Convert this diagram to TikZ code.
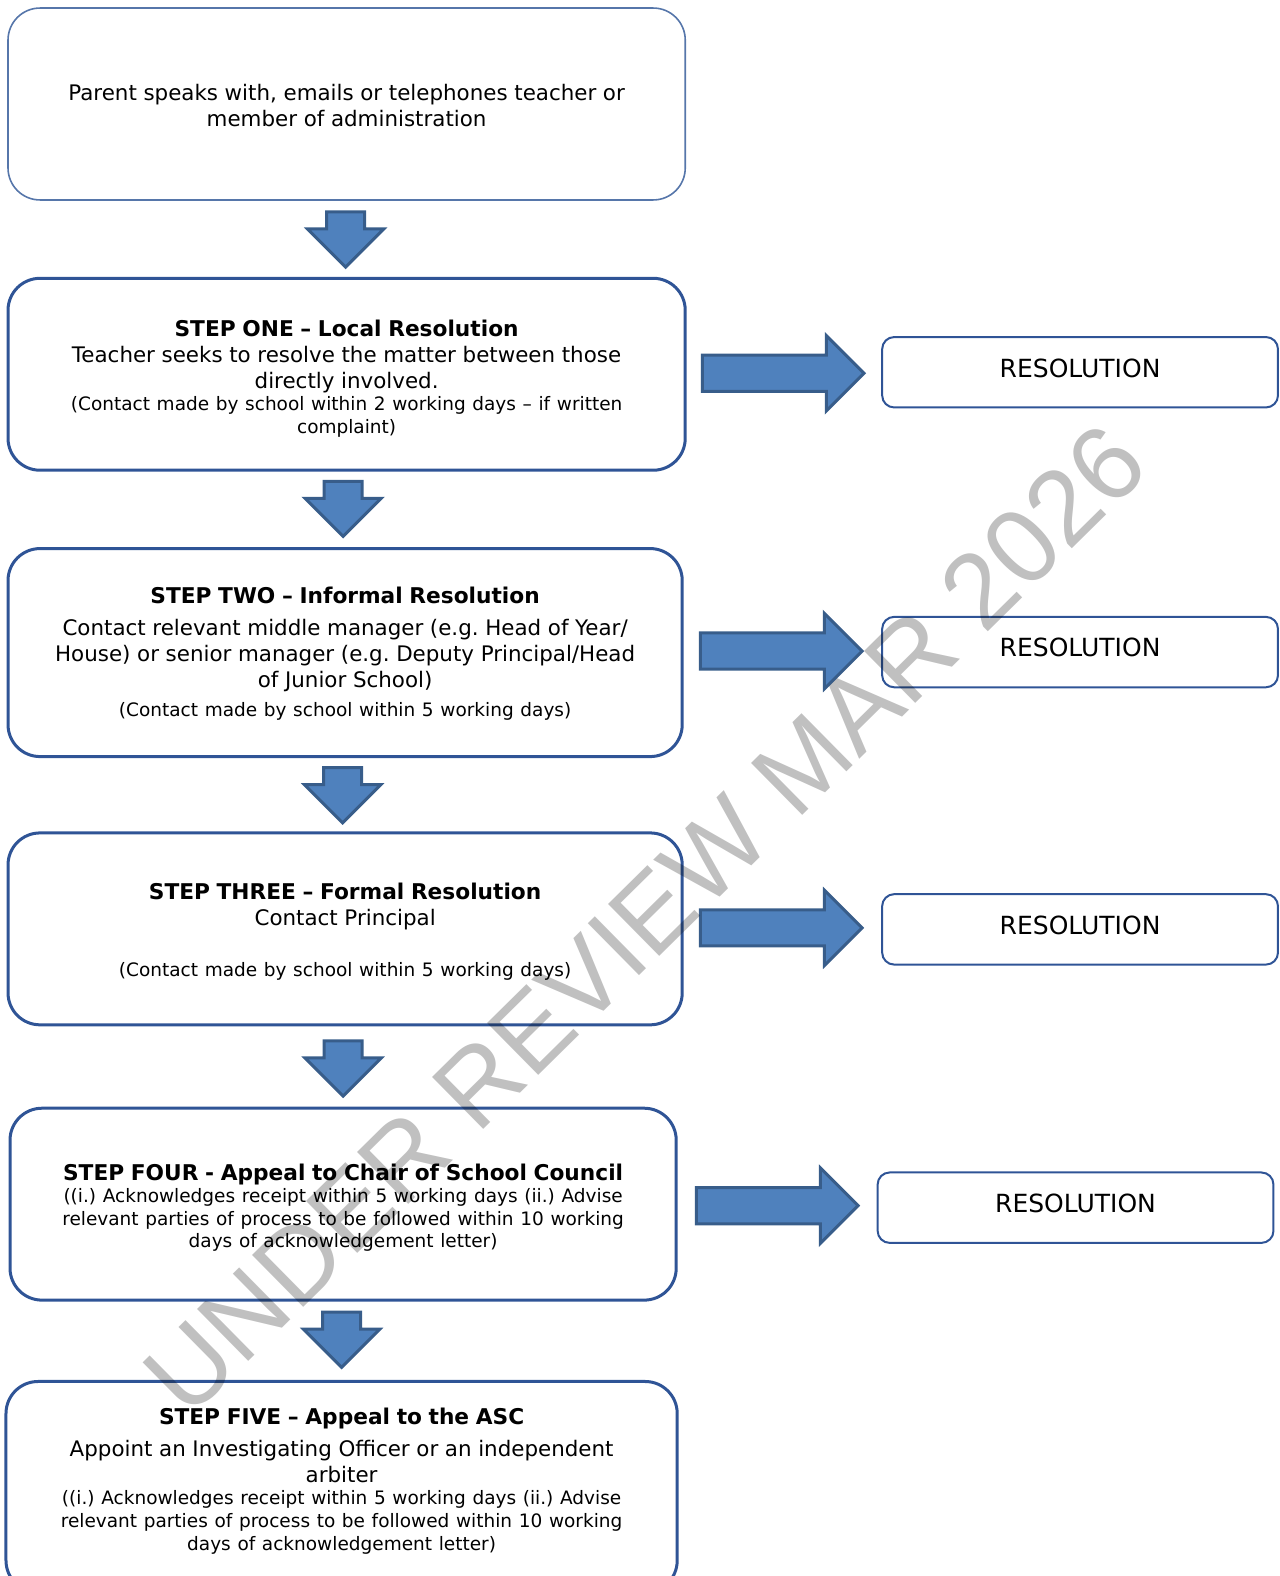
\documentclass[tikz,border=0pt]{standalone}
\usepackage{fontspec}
\setmainfont{DejaVu Sans}
\newfontfamily\markfont{Liberation Sans}
\usetikzlibrary{shapes.arrows}
\frenchspacing

\definecolor{boxblue}{HTML}{2F5496}
\definecolor{lineblue}{HTML}{5676AA}
\definecolor{arrowfill}{HTML}{4F81BD}
\definecolor{arrowline}{HTML}{385D8A}
\definecolor{markgray}{HTML}{C0C0C0}

% text layers inside the boxes (optional arg: strut height of the first line)
\newcommand{\steptitle}[2][0pt]{{\fontsize{10.85bp}{13bp}\selectfont\bfseries\rule{0pt}{#1}#2\par}}
\newcommand{\stepbody}[2][0pt]{{\fontsize{10.7bp}{13bp}\selectfont\rule{0pt}{#1}#2\par}}
\newcommand{\stepnote}[1]{{\fontsize{9.25bp}{11.3bp}\selectfont #1\par}}

\tikzset{
  stepbox/.style={draw=boxblue, line width=1.5bp, rounded corners=16bp,
    fill=white, inner xsep=4bp, inner ysep=0pt, align=center, text width=#1},
  firstbox/.style={stepbox=#1, draw=lineblue, line width=0.8bp},
  resbox/.style={draw=boxblue, line width=1bp, rounded corners=6bp,
    minimum width=197.9bp, minimum height=35.2bp, text depth=4.5bp,
    font=\fontsize{12.5bp}{14bp}\selectfont},
  downarrow/.style={single arrow, draw=arrowline, fill=arrowfill, line width=1.5bp,
    rotate=-90, anchor=tail, inner xsep=0pt, inner ysep=8.8bp,
    minimum height=27.6bp, minimum width=36.7bp, single arrow head extend=9.55bp},
  rightarrow/.style={single arrow, draw=arrowline, fill=arrowfill, line width=1.5bp,
    anchor=tail, inner xsep=0pt, inner ysep=8.3bp,
    minimum height=80.9bp, minimum width=36.2bp, single arrow head extend=9.8bp}
}

\begin{document}
\begin{tikzpicture}[x=0.50235bp,y=-0.50235bp]
  \useasboundingbox (0,0) rectangle (1274,1568.6);

  % first contact
  \node[firstbox=330.6bp, minimum height=95.95bp] (parent) at (345,103.5) {%
    \stepbody[10.1bp]{Parent speaks with, emails or telephones teacher or\\
      member of administration}};

  % the five steps
  \node[stepbox=330.6bp, minimum height=95.95bp] (stepone) at (345,372.5) {%
    \steptitle[12.5bp]{STEP ONE – Local Resolution}
    \stepbody{Teacher seeks to resolve the matter between those\\ directly involved.}
    \stepnote{(Contact made by school within 2 working days – if written\\ complaint)}};

  \node[stepbox=329.1bp, minimum height=104bp] (steptwo) at (343.5,649.5) {%
    \steptitle[9.3bp]{STEP TWO – Informal Resolution}\vspace{3bp}
    \stepbody{Contact relevant middle manager (e.g. Head of Year/\\
      House) or senior manager (e.g. Deputy Principal/Head\\ of Junior School)}\vspace{3bp}
    \stepnote{(Contact made by school within 5 working days)}};

  \node[stepbox=329.1bp, minimum height=95.95bp] (stepthree) at (343.5,924.5) {%
    \steptitle[11.25bp]{STEP THREE – Formal Resolution}
    \stepbody{Contact Principal}\vspace{14bp}
    \stepnote{(Contact made by school within 5 working days)}};

  \node[stepbox=325.1bp, minimum height=95.95bp] (stepfour) at (341.5,1198.5) {%
    \steptitle[11.75bp]{STEP FOUR - Appeal to Chair of School Council}
    \stepnote{((i.) Acknowledges receipt within 5 working days (ii.) Advise\\
      relevant parties of process to be followed within 10 working\\
      days of acknowledgement letter)}};

  \node[stepbox=327.6bp, minimum height=105.5bp] (stepfive) at (340,1480) {%
    \steptitle{STEP FIVE – Appeal to the ASC}\vspace{3bp}
    \stepbody{Appoint an Investigating Officer or an independent\\ arbiter}
    \stepnote{((i.) Acknowledges receipt within 5 working days (ii.) Advise\\
      relevant parties of process to be followed within 10 working\\
      days of acknowledgement letter)\rule[-8bp]{0pt}{0pt}}};

  % resolution boxes
  \node[resbox] (resone) at (1075,370.5) {RESOLUTION};
  \node[resbox] (restwo) at (1075,649) {RESOLUTION};
  \node[resbox] (resthree) at (1075,925) {RESOLUTION};
  \node[resbox] (resfour) at (1070.5,1202) {RESOLUTION};

  % block arrows down
  \node[downarrow] (downone) at (344,209.5) {};
  \node[downarrow] (downtwo) at (341.5,477.5) {};
  \node[downarrow] (downthree) at (341,762.5) {};
  \node[downarrow] (downfour) at (341.5,1034.5) {};
  \node[downarrow] (downfive) at (340,1304.5) {};

  % block arrows right
  \node[rightarrow] (rightone) at (697.5,371.5) {};
  \node[rightarrow] (righttwo) at (695.5,648) {};
  \node[rightarrow] (rightthree) at (695.5,923.5) {};
  \node[rightarrow] (rightfour) at (691.5,1200) {};

  % watermark
  \begin{scope}[blend mode=multiply]
    \node[text=markgray, rotate=44.6, font=\markfont\fontsize{53bp}{53bp}\selectfont]
      (stamp) at (642,915) {UNDER REVIEW MAR 2026};
  \end{scope}

\end{tikzpicture}
\end{document}
